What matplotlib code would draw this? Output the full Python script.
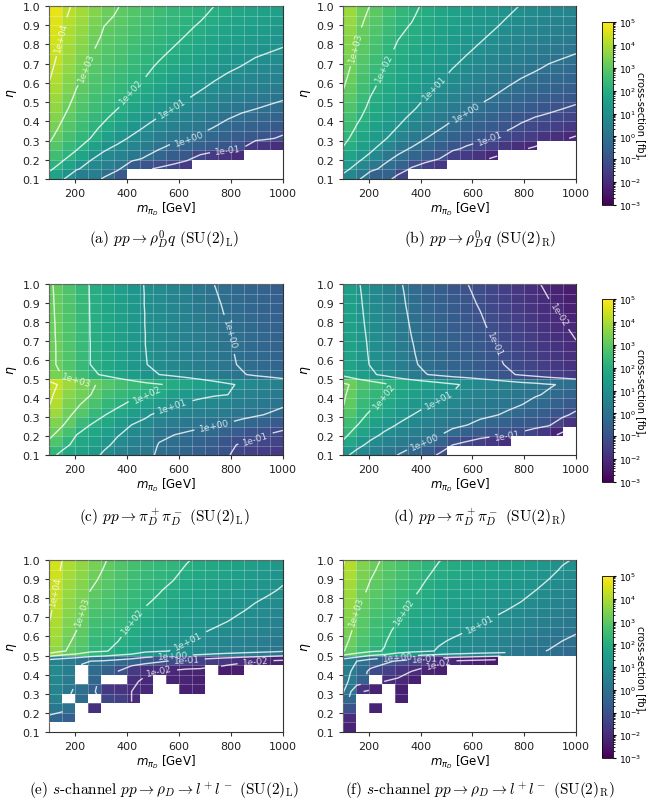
import matplotlib.pyplot as plt
import numpy as np
from matplotlib.colors import LogNorm

nan = np.nan

# bin edges of the scan
m_edges = np.arange(100, 1001, 50)
eta_edges = np.round(np.arange(0.10, 1.0001, 0.05), 2)
levels = [-2, -1, 0, 1, 2, 3, 4]

# log10(cross-section / fb), one list per m_piD bin (100-150 ... 950-1000),
# each list runs over the eta bins from 0.10-0.15 up to 0.95-1.00
rho_q_L = [
    [1.64, 2.14, 2.54, 2.86, 3.12, 3.32, 3.50, 3.66, 3.81, 3.94, 4.06, 4.17, 4.27, 4.37, 4.46, 4.54, 4.62, 4.70],
    [1.07, 1.67, 2.10, 2.39, 2.63, 2.84, 3.02, 3.17, 3.31, 3.44, 3.55, 3.66, 3.76, 3.86, 3.94, 4.02, 4.10, 4.17],
    [0.40, 1.07, 1.66, 2.07, 2.28, 2.47, 2.63, 2.77, 2.89, 3.01, 3.15, 3.28, 3.40, 3.51, 3.61, 3.70, 3.79, 3.88],
    [0.40, 0.76, 1.06, 1.57, 2.00, 2.18, 2.33, 2.47, 2.59, 2.71, 2.81, 2.90, 2.99, 3.10, 3.21, 3.31, 3.41, 3.50],
    [-0.10, 0.45, 0.78, 1.09, 1.51, 1.87, 2.09, 2.23, 2.36, 2.48, 2.58, 2.68, 2.77, 2.85, 2.93, 3.00, 3.11, 3.20],
    [-0.80, 0.14, 0.54, 0.86, 1.18, 1.50, 1.77, 2.02, 2.15, 2.28, 2.40, 2.51, 2.61, 2.70, 2.79, 2.87, 2.95, 3.02],
    [nan, -0.70, 0.22, 0.60, 0.92, 1.20, 1.46, 1.69, 1.90, 2.06, 2.18, 2.30, 2.40, 2.49, 2.58, 2.67, 2.75, 2.82],
    [nan, -0.90, -0.08, 0.32, 0.66, 0.95, 1.20, 1.43, 1.64, 1.83, 2.00, 2.11, 2.21, 2.31, 2.40, 2.49, 2.57, 2.64],
    [nan, -1.10, -0.40, 0.04, 0.40, 0.71, 0.97, 1.20, 1.41, 1.60, 1.76, 1.92, 2.05, 2.15, 2.24, 2.32, 2.40, 2.48],
    [nan, -1.30, -0.63, -0.19, 0.17, 0.48, 0.76, 1.00, 1.21, 1.40, 1.57, 1.73, 1.88, 2.01, 2.10, 2.19, 2.27, 2.34],
    [nan, -1.60, -0.84, -0.36, 0.03, 0.33, 0.59, 0.82, 1.04, 1.23, 1.40, 1.56, 1.71, 1.85, 1.98, 2.07, 2.15, 2.22],
    [nan, nan, -1.30, -0.53, -0.14, 0.17, 0.43, 0.66, 0.87, 1.06, 1.23, 1.40, 1.55, 1.69, 1.82, 1.95, 2.05, 2.12],
    [nan, nan, -1.60, -0.70, -0.34, -0.03, 0.24, 0.48, 0.69, 0.89, 1.07, 1.23, 1.39, 1.53, 1.66, 1.79, 1.91, 2.00],
    [nan, nan, -1.80, -0.85, -0.52, -0.23, 0.03, 0.28, 0.52, 0.73, 0.92, 1.10, 1.25, 1.39, 1.53, 1.65, 1.77, 1.88],
    [nan, nan, -2.00, -1.00, -0.66, -0.37, -0.12, 0.13, 0.37, 0.59, 0.80, 0.98, 1.14, 1.28, 1.41, 1.54, 1.65, 1.77],
    [nan, nan, nan, -1.70, -0.79, -0.48, -0.21, 0.03, 0.26, 0.47, 0.67, 0.85, 1.01, 1.16, 1.29, 1.41, 1.53, 1.64],
    [nan, nan, nan, -1.80, -0.93, -0.60, -0.32, -0.07, 0.16, 0.38, 0.58, 0.76, 0.93, 1.09, 1.22, 1.35, 1.47, 1.58],
    [nan, nan, nan, -1.90, -1.11, -0.76, -0.45, -0.18, 0.07, 0.30, 0.50, 0.68, 0.85, 1.01, 1.15, 1.28, 1.40, 1.51],
]

rho_q_R = [
    [0.74, 1.24, 1.64, 1.96, 2.22, 2.42, 2.60, 2.76, 2.91, 3.04, 3.16, 3.27, 3.37, 3.47, 3.56, 3.64, 3.72, 3.80],
    [0.17, 0.77, 1.20, 1.49, 1.73, 1.94, 2.12, 2.27, 2.41, 2.54, 2.65, 2.76, 2.86, 2.96, 3.04, 3.12, 3.20, 3.27],
    [-0.50, 0.17, 0.76, 1.17, 1.38, 1.57, 1.73, 1.87, 1.99, 2.11, 2.25, 2.38, 2.50, 2.61, 2.71, 2.80, 2.89, 2.98],
    [-0.50, -0.14, 0.16, 0.67, 1.10, 1.28, 1.43, 1.57, 1.69, 1.81, 1.91, 2.00, 2.09, 2.20, 2.31, 2.41, 2.51, 2.60],
    [-1.40, -0.45, -0.12, 0.19, 0.61, 0.97, 1.19, 1.33, 1.46, 1.58, 1.68, 1.78, 1.87, 1.95, 2.03, 2.10, 2.21, 2.30],
    [nan, -1.10, -0.36, -0.04, 0.28, 0.60, 0.87, 1.12, 1.25, 1.38, 1.50, 1.61, 1.71, 1.80, 1.89, 1.97, 2.05, 2.12],
    [nan, -1.50, -0.68, -0.30, 0.02, 0.30, 0.56, 0.79, 1.00, 1.16, 1.28, 1.40, 1.50, 1.59, 1.68, 1.77, 1.85, 1.92],
    [nan, -1.70, -0.98, -0.58, -0.24, 0.05, 0.30, 0.53, 0.74, 0.93, 1.10, 1.21, 1.31, 1.41, 1.50, 1.59, 1.67, 1.74],
    [nan, nan, -1.50, -0.86, -0.50, -0.19, 0.07, 0.30, 0.51, 0.70, 0.86, 1.02, 1.15, 1.25, 1.34, 1.42, 1.50, 1.58],
    [nan, nan, -1.60, -1.09, -0.73, -0.42, -0.14, 0.10, 0.31, 0.50, 0.67, 0.83, 0.98, 1.11, 1.20, 1.29, 1.37, 1.44],
    [nan, nan, -1.80, -1.26, -0.87, -0.57, -0.31, -0.08, 0.14, 0.33, 0.50, 0.66, 0.81, 0.95, 1.08, 1.17, 1.25, 1.32],
    [nan, nan, -2.10, -1.43, -1.04, -0.73, -0.47, -0.24, -0.03, 0.16, 0.33, 0.50, 0.65, 0.79, 0.92, 1.05, 1.15, 1.22],
    [nan, nan, nan, -1.70, -1.24, -0.93, -0.66, -0.42, -0.21, -0.01, 0.17, 0.33, 0.49, 0.63, 0.76, 0.89, 1.01, 1.10],
    [nan, nan, nan, -1.90, -1.42, -1.13, -0.87, -0.62, -0.38, -0.17, 0.02, 0.20, 0.35, 0.49, 0.63, 0.75, 0.87, 0.98],
    [nan, nan, nan, -2.10, -1.56, -1.27, -1.02, -0.77, -0.53, -0.31, -0.10, 0.08, 0.24, 0.38, 0.51, 0.64, 0.75, 0.87],
    [nan, nan, nan, nan, -1.80, -1.38, -1.11, -0.87, -0.64, -0.43, -0.23, -0.05, 0.11, 0.26, 0.39, 0.51, 0.63, 0.74],
    [nan, nan, nan, nan, -1.90, -1.50, -1.22, -0.97, -0.74, -0.52, -0.32, -0.14, 0.03, 0.19, 0.32, 0.45, 0.57, 0.68],
    [nan, nan, nan, nan, -2.10, -1.66, -1.35, -1.08, -0.83, -0.60, -0.40, -0.22, -0.05, 0.11, 0.25, 0.38, 0.50, 0.61],
]

pipi_L = [
    [2.26, 2.79, 3.18, 3.48, 3.79, 4.04, 4.17, 4.30, 3.35, 3.20, 3.20, 3.20, 3.18, 3.17, 3.15, 3.14, 3.12, 3.10],
    [1.78, 2.22, 2.65, 3.04, 3.23, 3.42, 3.61, 3.80, 2.95, 2.80, 2.80, 2.79, 2.78, 2.78, 2.77, 2.76, 2.76, 2.75],
    [1.56, 1.78, 2.00, 2.43, 2.87, 3.10, 3.25, 3.40, 2.55, 2.40, 2.40, 2.39, 2.39, 2.38, 2.38, 2.37, 2.37, 2.36],
    [1.33, 1.56, 1.78, 2.00, 2.36, 2.71, 3.02, 3.10, 2.15, 2.00, 2.00, 2.00, 1.99, 1.99, 1.98, 1.98, 1.97, 1.97],
    [0.86, 1.17, 1.45, 1.75, 2.03, 2.31, 2.58, 2.85, 1.90, 1.75, 1.75, 1.74, 1.74, 1.73, 1.73, 1.72, 1.72, 1.71],
    [0.57, 0.80, 1.04, 1.40, 1.77, 2.10, 2.35, 2.60, 1.65, 1.50, 1.50, 1.49, 1.49, 1.48, 1.48, 1.47, 1.47, 1.46],
    [0.33, 0.55, 0.77, 1.00, 1.42, 1.85, 2.16, 2.40, 1.40, 1.25, 1.25, 1.24, 1.24, 1.23, 1.23, 1.22, 1.22, 1.21],
    [0.19, 0.40, 0.62, 0.83, 1.10, 1.60, 2.03, 2.20, 1.15, 1.02, 1.01, 1.00, 1.00, 0.99, 0.99, 0.98, 0.98, 0.97],
    [-0.10, -0.05, 0.15, 0.50, 0.85, 1.30, 1.84, 2.05, 1.00, 0.87, 0.86, 0.85, 0.85, 0.84, 0.84, 0.83, 0.83, 0.82],
    [-0.24, -0.15, 0.01, 0.35, 0.70, 1.02, 1.47, 1.90, 0.85, 0.72, 0.71, 0.70, 0.69, 0.68, 0.67, 0.66, 0.65, 0.64],
    [-0.42, -0.30, -0.10, 0.23, 0.57, 0.90, 1.29, 1.70, 0.70, 0.58, 0.56, 0.55, 0.53, 0.51, 0.49, 0.47, 0.45, 0.43],
    [-0.60, -0.45, -0.20, 0.12, 0.46, 0.80, 1.14, 1.50, 0.55, 0.43, 0.41, 0.39, 0.36, 0.33, 0.30, 0.27, 0.24, 0.21],
    [-0.80, -0.60, -0.30, 0.03, 0.38, 0.72, 1.05, 1.30, 0.40, 0.28, 0.26, 0.23, 0.20, 0.16, 0.12, 0.08, 0.04, 0.00],
    [-0.95, -0.85, -0.50, -0.07, 0.29, 0.64, 1.00, 1.10, 0.22, 0.10, 0.07, 0.05, 0.02, -0.02, -0.05, -0.08, -0.12, -0.15],
    [-1.30, -1.10, -0.67, -0.19, 0.15, 0.40, 0.65, 0.90, 0.05, -0.06, -0.08, -0.10, -0.13, -0.16, -0.19, -0.22, -0.26, -0.29],
    [-1.45, -1.20, -0.89, -0.37, 0.07, 0.30, 0.52, 0.75, -0.10, -0.20, -0.22, -0.25, -0.28, -0.31, -0.34, -0.37, -0.40, -0.43],
    [-1.55, -1.30, -1.05, -0.55, -0.05, 0.19, 0.39, 0.60, -0.20, -0.30, -0.32, -0.35, -0.38, -0.41, -0.44, -0.47, -0.50, -0.53],
    [-1.60, -1.40, -1.20, -0.75, -0.25, 0.09, 0.27, 0.45, -0.30, -0.40, -0.42, -0.45, -0.48, -0.51, -0.54, -0.57, -0.60, -0.63],
]

pipi_R = [
    [1.20, 1.81, 2.22, 2.53, 2.84, 3.04, 3.12, 3.20, 1.80, 1.65, 1.63, 1.60, 1.58, 1.55, 1.53, 1.50, 1.48, 1.45],
    [0.76, 1.20, 1.64, 2.04, 2.21, 2.39, 2.57, 2.75, 1.43, 1.28, 1.26, 1.23, 1.21, 1.18, 1.16, 1.13, 1.11, 1.08],
    [0.44, 0.83, 1.20, 1.56, 1.91, 2.12, 2.29, 2.45, 1.12, 0.97, 0.94, 0.92, 0.89, 0.86, 0.83, 0.81, 0.78, 0.75],
    [0.20, 0.55, 0.90, 1.21, 1.50, 1.80, 2.03, 2.15, 0.85, 0.70, 0.67, 0.64, 0.61, 0.58, 0.54, 0.51, 0.48, 0.45],
    [-0.01, 0.31, 0.64, 0.97, 1.21, 1.44, 1.67, 1.90, 0.53, 0.38, 0.35, 0.31, 0.28, 0.24, 0.21, 0.17, 0.14, 0.10],
    [-0.30, 0.11, 0.42, 0.72, 1.02, 1.25, 1.47, 1.70, 0.25, 0.10, 0.06, 0.03, -0.01, -0.05, -0.09, -0.13, -0.16, -0.20],
    [-0.64, -0.12, 0.22, 0.51, 0.80, 1.07, 1.28, 1.50, 0.03, -0.12, -0.16, -0.20, -0.24, -0.29, -0.33, -0.37, -0.41, -0.45],
    [-1.10, -0.44, 0.04, 0.32, 0.60, 0.89, 1.11, 1.30, -0.14, -0.29, -0.34, -0.38, -0.43, -0.47, -0.52, -0.56, -0.61, -0.65],
    [nan, -1.00, -0.25, 0.15, 0.42, 0.70, 0.97, 1.10, -0.31, -0.46, -0.51, -0.56, -0.61, -0.66, -0.70, -0.75, -0.80, -0.85],
    [nan, -1.25, -0.50, 0.02, 0.24, 0.46, 0.68, 0.90, -0.41, -0.56, -0.61, -0.67, -0.72, -0.77, -0.82, -0.88, -0.93, -0.98],
    [nan, -1.50, -0.72, -0.17, 0.14, 0.34, 0.55, 0.75, -0.55, -0.70, -0.76, -0.81, -0.87, -0.93, -0.98, -1.04, -1.09, -1.15],
    [nan, -1.70, -0.87, -0.36, 0.05, 0.24, 0.42, 0.60, -0.72, -0.87, -0.93, -0.99, -1.05, -1.11, -1.17, -1.23, -1.29, -1.35],
    [nan, -1.90, -1.00, -0.55, -0.09, 0.13, 0.29, 0.45, -0.90, -1.05, -1.11, -1.18, -1.24, -1.30, -1.36, -1.43, -1.49, -1.55],
    [nan, nan, -1.13, -0.70, -0.33, 0.01, 0.15, 0.30, -1.08, -1.23, -1.30, -1.36, -1.43, -1.49, -1.56, -1.62, -1.69, -1.75],
    [nan, nan, -1.36, -0.80, -0.48, -0.16, 0.05, 0.20, -1.24, -1.39, -1.46, -1.53, -1.59, -1.66, -1.73, -1.80, -1.86, -1.93],
    [nan, nan, -1.70, -0.92, -0.63, -0.34, -0.06, 0.05, -1.40, -1.55, -1.62, -1.69, -1.76, -1.83, -1.89, -1.96, -2.03, -2.10],
    [nan, nan, -2.20, -1.40, -0.85, -0.55, -0.30, -0.05, -1.54, -1.69, -1.76, -1.83, -1.90, -1.97, -2.04, -2.11, -2.18, -2.25],
    [nan, nan, nan, -1.80, -1.15, -0.75, -0.45, -0.15, -1.68, -1.83, -1.90, -1.97, -2.04, -2.12, -2.19, -2.26, -2.33, -2.40],
]

ll_L = [
    [nan, -0.40, 0.20, 0.50, 0.60, 0.70, 0.80, 0.50, 3.65, 3.80, 3.92, 4.03, 4.12, 4.20, 4.27, 4.33, 4.39, 4.45],
    [nan, -0.60, 0.00, nan, 0.20, 0.30, 0.40, 0.30, 3.07, 3.20, 3.33, 3.45, 3.55, 3.65, 3.74, 3.83, 3.91, 3.98],
    [nan, nan, nan, -0.20, -0.10, nan, nan, 0.10, 2.75, 2.88, 3.00, 3.12, 3.23, 3.33, 3.43, 3.52, 3.60, 3.68],
    [nan, nan, -1.90, nan, -0.60, -0.40, -0.20, 0.00, 2.20, 2.33, 2.45, 2.57, 2.70, 2.85, 3.00, 3.12, 3.23, 3.33],
    [nan, nan, nan, -1.30, -1.70, nan, -0.50, -0.10, 2.06, 2.17, 2.30, 2.43, 2.55, 2.67, 2.78, 2.88, 2.97, 3.05],
    [nan, nan, nan, -1.50, -1.80, nan, -1.00, -0.30, 1.85, 2.01, 2.13, 2.25, 2.36, 2.46, 2.55, 2.64, 2.72, 2.80],
    [nan, nan, nan, -2.00, -2.00, -1.90, -1.60, -0.50, 1.65, 1.78, 1.90, 2.03, 2.15, 2.25, 2.35, 2.44, 2.52, 2.60],
    [nan, nan, nan, nan, -2.10, -2.10, -1.90, -0.70, 1.18, 1.38, 1.55, 1.72, 1.95, 2.08, 2.18, 2.27, 2.36, 2.45],
    [nan, nan, nan, nan, nan, nan, -2.00, -0.90, 1.07, 1.24, 1.41, 1.58, 1.75, 1.92, 2.04, 2.14, 2.23, 2.32],
    [nan, nan, nan, nan, nan, -2.20, -2.10, -1.10, 0.97, 1.11, 1.26, 1.41, 1.56, 1.71, 1.86, 2.01, 2.12, 2.22],
    [nan, nan, nan, nan, -2.30, -2.20, -2.20, -1.30, 0.87, 1.01, 1.15, 1.29, 1.42, 1.55, 1.68, 1.81, 1.93, 2.04],
    [nan, nan, nan, nan, -2.30, -2.30, -2.20, -1.45, 0.78, 0.92, 1.05, 1.18, 1.30, 1.42, 1.54, 1.66, 1.78, 1.90],
    [nan, nan, nan, nan, nan, nan, nan, -1.60, 0.62, 0.78, 0.96, 1.10, 1.23, 1.35, 1.47, 1.58, 1.69, 1.80],
    [nan, nan, nan, nan, nan, nan, -2.40, -1.75, 0.50, 0.65, 0.84, 1.01, 1.14, 1.26, 1.38, 1.49, 1.60, 1.70],
    [nan, nan, nan, nan, nan, nan, -2.40, -1.90, 0.40, 0.55, 0.72, 0.87, 1.03, 1.15, 1.27, 1.38, 1.48, 1.58],
    [nan, nan, nan, nan, nan, nan, nan, -2.00, 0.30, 0.45, 0.60, 0.75, 0.90, 1.03, 1.15, 1.26, 1.36, 1.46],
    [nan, nan, nan, nan, nan, nan, nan, -2.10, 0.20, 0.35, 0.50, 0.65, 0.80, 0.93, 1.06, 1.17, 1.27, 1.37],
    [nan, nan, nan, nan, nan, nan, nan, -2.20, 0.08, 0.23, 0.38, 0.52, 0.66, 0.80, 0.95, 1.05, 1.15, 1.25],
]

ll_R = [
    [-2.20, -2.00, -1.00, -0.30, 0.10, 0.30, 0.40, 0.40, 3.05, 3.20, 3.33, 3.46, 3.58, 3.70, 3.80, 3.90, 3.99, 4.07],
    [nan, nan, nan, nan, -1.80, -0.50, -0.30, 0.00, 2.55, 2.70, 2.82, 2.93, 3.00, 3.10, 3.20, 3.30, 3.38, 3.46],
    [nan, nan, -2.20, nan, -2.20, nan, -1.20, -0.50, 2.15, 2.30, 2.44, 2.56, 2.68, 2.80, 2.92, 3.00, 3.10, 3.18],
    [nan, nan, nan, nan, nan, -2.00, -1.50, -0.80, 1.96, 2.08, 2.20, 2.32, 2.44, 2.55, 2.65, 2.75, 2.84, 2.93],
    [nan, nan, nan, -2.30, -2.30, -2.10, -1.80, -1.10, 1.48, 1.65, 1.83, 2.01, 2.15, 2.28, 2.40, 2.50, 2.60, 2.70],
    [nan, nan, nan, nan, nan, -2.30, -2.00, -1.40, 1.25, 1.38, 1.52, 1.68, 1.85, 2.00, 2.13, 2.25, 2.36, 2.46],
    [nan, nan, nan, nan, nan, nan, -2.20, -1.70, 1.09, 1.23, 1.37, 1.50, 1.63, 1.76, 1.90, 2.01, 2.11, 2.21],
    [nan, nan, nan, nan, nan, nan, -2.30, -1.90, 0.95, 1.05, 1.18, 1.31, 1.44, 1.56, 1.68, 1.80, 1.92, 2.02],
    [nan, nan, nan, nan, nan, nan, nan, -2.10, 0.82, 0.96, 1.09, 1.22, 1.35, 1.47, 1.59, 1.70, 1.80, 1.90],
    [nan, nan, nan, nan, nan, nan, nan, -2.20, 0.72, 0.86, 1.01, 1.14, 1.26, 1.38, 1.50, 1.60, 1.70, 1.80],
    [nan, nan, nan, nan, nan, nan, nan, -2.30, 0.60, 0.75, 0.90, 1.05, 1.18, 1.30, 1.41, 1.52, 1.62, 1.72],
    [nan, nan, nan, nan, nan, nan, nan, -2.40, 0.52, 0.66, 0.80, 0.95, 1.09, 1.21, 1.33, 1.44, 1.54, 1.64],
    [nan, nan, nan, nan, nan, nan, nan, nan, 0.42, 0.56, 0.70, 0.84, 0.99, 1.12, 1.24, 1.35, 1.45, 1.55],
    [nan, nan, nan, nan, nan, nan, nan, nan, 0.18, 0.35, 0.53, 0.70, 0.86, 1.02, 1.15, 1.26, 1.37, 1.47],
    [nan, nan, nan, nan, nan, nan, nan, nan, 0.08, 0.24, 0.40, 0.55, 0.70, 0.85, 1.01, 1.14, 1.26, 1.37],
    [nan, nan, nan, nan, nan, nan, nan, nan, -0.02, 0.13, 0.28, 0.43, 0.58, 0.72, 0.86, 0.99, 1.12, 1.24],
    [nan, nan, nan, nan, nan, nan, nan, nan, -0.12, 0.00, 0.15, 0.30, 0.44, 0.57, 0.70, 0.83, 0.95, 1.06],
    [nan, nan, nan, nan, nan, nan, nan, nan, -0.25, -0.10, 0.05, 0.20, 0.34, 0.47, 0.60, 0.73, 0.85, 0.96],
]

captions = [
    r"(a) $pp \rightarrow \rho_D^0 q$ (SU(2)$_\mathrm{L}$)",
    r"(b) $pp \rightarrow \rho_D^0 q$ (SU(2)$_\mathrm{R}$)",
    r"(c) $pp \rightarrow \pi_D^+\pi_D^-$ (SU(2)$_\mathrm{L}$)",
    r"(d) $pp \rightarrow \pi_D^+\pi_D^-$ (SU(2)$_\mathrm{R}$)",
    r"(e) $s$-channel $pp \rightarrow \rho_D \rightarrow l^+l^-$ (SU(2)$_\mathrm{L}$)",
    r"(f) $s$-channel $pp \rightarrow \rho_D \rightarrow l^+l^-$ (SU(2)$_\mathrm{R}$)",
]
panels = [rho_q_L, rho_q_R, pipi_L, pipi_R, ll_L, ll_R]

W, H = 648, 804
fig = plt.figure(figsize=(W / 100, H / 100), dpi=100)

# pixel boxes: columns (left, right), rows (top, bottom)
cols_px = [(49, 283), (343, 576)]
rows_px = [(7, 180), (285, 456), (561, 733)]
cbar_rows_px = [(23, 206), (300, 483), (577, 759)]
cap_y = [240, 517, 791]
cap_x = [164, 480]

norm = LogNorm(1e-3, 1e5)
xg = np.linspace(100, 1000, 18)
yg = np.linspace(0.1, 1.0, 18)

for k, data in enumerate(panels):
    r, c = divmod(k, 2)
    (x0, x1), (y0, y1) = cols_px[c], rows_px[r]
    ax = fig.add_axes([x0 / W, 1 - y1 / H, (x1 - x0) / W, (y1 - y0) / H])
    z = np.ma.masked_invalid(np.array(data).T)
    mesh = ax.pcolormesh(m_edges, eta_edges, 10 ** z, cmap='viridis', norm=norm)
    cs = ax.contour(xg, yg, z, levels=levels, colors='white', linewidths=1.0,
                    alpha=0.8, linestyles='solid')
    ax.clabel(cs, fmt=lambda v: '1e%+03d' % v, fontsize=6.5, inline=True)

    ax.set_xlim(100, 1000)
    ax.set_ylim(0.1, 1.0)
    ax.set_xticks([200, 400, 600, 800, 1000])
    ax.set_xticks(m_edges, minor=True)
    ax.set_yticks(np.round(np.arange(0.1, 1.01, 0.1), 1))
    ax.set_yticks(eta_edges, minor=True)
    ax.grid(which='both', color='white', alpha=0.3, linewidth=0.6)
    ax.set_axisbelow(False)
    ax.tick_params(which='minor', length=0)
    ax.tick_params(which='major', labelsize=8, length=3, color='#333333', labelcolor='#222222')
    for s in ax.spines.values():
        s.set_color('#333333')
        s.set_linewidth(0.8)
    ax.set_xlabel(r'$m_{\pi_D}$ [GeV]', fontsize=8.5, labelpad=1)
    ax.set_ylabel(r'$\eta$', fontsize=9, labelpad=2)

    fig.text(cap_x[c] / W, 1 - cap_y[r] / H, captions[k], ha='center', va='center',
             fontsize=11, family='cmr10', math_fontfamily='cm')

    if c == 1:
        cb0, cb1 = cbar_rows_px[r]
        cax = fig.add_axes([602 / W, 1 - cb1 / H, 11 / W, (cb1 - cb0) / H])
        cb = fig.colorbar(mesh, cax=cax)
        cb.ax.tick_params(labelsize=6.5, length=2.5, pad=1.5)
        cb.ax.tick_params(which='minor', length=1.5)
        cb.outline.set_linewidth(0.6)
        fig.text(641 / W, 1 - (cb0 + cb1) / 2 / H, 'cross-section [fb]', rotation=270,
                 ha='center', va='center', fontsize=7)

fig.savefig('out.png', dpi=100)
